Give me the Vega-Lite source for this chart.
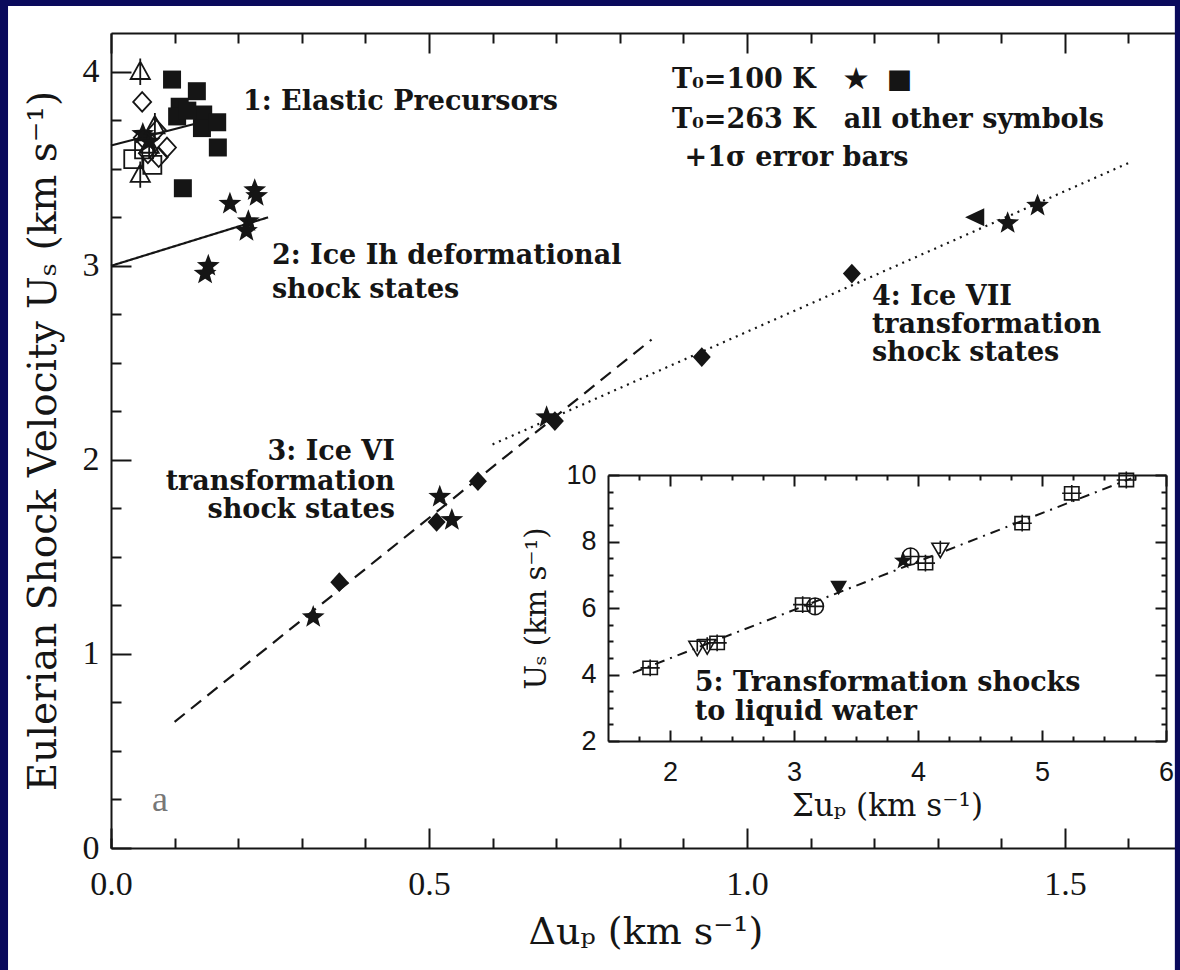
{
  "$schema": "https://vega.github.io/schema/vega-lite/v6.json",
  "width": 1069,
  "height": 815,
  "autosize": {"type": "none"},
  "padding": {"left": 111, "top": 33, "right": 0, "bottom": 122},
  "background": "white",
  "config": {
    "view": {"stroke": null},
    "axis": {
      "grid": false,
      "domainColor": "#151515", "domainWidth": 2,
      "tickColor": "#151515", "tickWidth": 2,
      "labelColor": "#151515", "titleColor": "#151515",
      "labelFont": "Liberation Serif", "titleFont": "DejaVu Serif", "titleFontWeight": "normal",
      "labelFlush": false, "labelOverlap": false
    }
  },
  "datasets": {
    "frame": [{"k": 1}],
    "lines": [
      {"line": "L1", "x": 0.0, "U": 3.62}, {"line": "L1", "x": 0.13, "U": 3.73},
      {"line": "L2", "x": 0.0, "U": 3.0}, {"line": "L2", "x": 0.247, "U": 3.25},
      {"line": "L3", "x": 0.1, "U": 0.65}, {"line": "L3", "x": 0.85, "U": 2.62},
      {"line": "L4", "x": 0.6, "U": 2.08}, {"line": "L4", "x": 1.6, "U": 3.53}
    ],
    "filled": [
      {"sym": "star", "x": 0.05, "U": 3.68}, {"sym": "star", "x": 0.06, "U": 3.64},
      {"sym": "star", "x": 0.187, "U": 3.32}, {"sym": "star", "x": 0.226, "U": 3.39},
      {"sym": "star", "x": 0.229, "U": 3.36}, {"sym": "star", "x": 0.216, "U": 3.23},
      {"sym": "star", "x": 0.213, "U": 3.18}, {"sym": "star", "x": 0.153, "U": 3.0},
      {"sym": "star", "x": 0.148, "U": 2.96},
      {"sym": "star", "x": 0.318, "U": 1.19}, {"sym": "star", "x": 0.517, "U": 1.81},
      {"sym": "star", "x": 0.536, "U": 1.69}, {"sym": "star", "x": 0.685, "U": 2.22},
      {"sym": "star", "x": 1.41, "U": 3.22}, {"sym": "star", "x": 1.457, "U": 3.31},
      {"sym": "square", "x": 0.096, "U": 3.96}, {"sym": "square", "x": 0.135, "U": 3.9},
      {"sym": "square", "x": 0.108, "U": 3.82}, {"sym": "square", "x": 0.104, "U": 3.77},
      {"sym": "square", "x": 0.145, "U": 3.78}, {"sym": "square", "x": 0.143, "U": 3.71},
      {"sym": "square", "x": 0.167, "U": 3.74}, {"sym": "square", "x": 0.168, "U": 3.61},
      {"sym": "square", "x": 0.113, "U": 3.4}, {"sym": "square", "x": 0.12, "U": 3.8},
      {"sym": "diamond", "x": 0.359, "U": 1.37}, {"sym": "diamond", "x": 0.512, "U": 1.68},
      {"sym": "diamond", "x": 0.577, "U": 1.89}, {"sym": "diamond", "x": 0.698, "U": 2.2},
      {"sym": "diamond", "x": 0.929, "U": 2.53}, {"sym": "diamond", "x": 1.165, "U": 2.96},
      {"sym": "triangle-left", "x": 1.36, "U": 3.25}
    ],
    "open": [
      {"sym": "triangle", "x": 0.046, "U": 4.0}, {"sym": "triangle", "x": 0.046, "U": 3.47},
      {"sym": "triangle", "x": 0.069, "U": 3.72}, {"sym": "triangle", "x": 0.06, "U": 3.62},
      {"sym": "diamond", "x": 0.049, "U": 3.845}, {"sym": "diamond", "x": 0.072, "U": 3.7},
      {"sym": "diamond", "x": 0.088, "U": 3.61}, {"sym": "diamond", "x": 0.058, "U": 3.58},
      {"sym": "diamond", "x": 0.05, "U": 3.66}, {"sym": "diamond", "x": 0.075, "U": 3.56},
      {"sym": "square", "x": 0.035, "U": 3.55}, {"sym": "square", "x": 0.052, "U": 3.6},
      {"sym": "square", "x": 0.065, "U": 3.52}
    ],
    "notes": [
      {"x": 0.2075, "U": 3.845, "text": "1: Elastic Precursors", "side": "left"},
      {"x": 0.253, "U": 3.05, "text": "2: Ice Ih deformational", "side": "left"},
      {"x": 0.253, "U": 2.876, "text": "shock states", "side": "left"},
      {"x": 1.1965, "U": 2.84, "text": "4: Ice VII", "side": "left"},
      {"x": 1.1965, "U": 2.696, "text": "transformation", "side": "left"},
      {"x": 1.1965, "U": 2.55, "text": "shock states", "side": "left"},
      {"x": 0.882, "U": 3.96, "text": "T₀=100 K \u00a0\u00a0★ \u00a0■", "side": "left"},
      {"x": 0.882, "U": 3.753, "text": "T₀=263 K \u00a0\u00a0all other symbols", "side": "left"},
      {"x": 0.902, "U": 3.557, "text": "+1σ error bars", "side": "left"},
      {"x": 0.4465, "U": 2.04, "text": "3: Ice VI", "side": "right"},
      {"x": 0.4465, "U": 1.887, "text": "transformation", "side": "right"},
      {"x": 0.4465, "U": 1.742, "text": "shock states", "side": "right"}
    ],
    "panel": [{"x": 0.077, "U": 0.247, "text": "a"}],
    "inset_line": [{"x": 1.7, "U": 4.05}, {"x": 5.72, "U": 9.9}],
    "inset_open": [
      {"sym": "sqx", "x": 1.84, "U": 4.2}, {"sym": "sqx", "x": 2.38, "U": 4.95},
      {"sym": "sqx", "x": 3.07, "U": 6.1}, {"sym": "sqx", "x": 4.06, "U": 7.35},
      {"sym": "sqx", "x": 4.84, "U": 8.55}, {"sym": "sqx", "x": 5.24, "U": 9.45},
      {"sym": "sqx", "x": 5.68, "U": 9.85},
      {"sym": "trid", "x": 2.22, "U": 4.8}, {"sym": "trid", "x": 2.3, "U": 4.85},
      {"sym": "trid", "x": 4.18, "U": 7.75},
      {"sym": "circ", "x": 3.17, "U": 6.05}, {"sym": "circ", "x": 3.94, "U": 7.55}
    ],
    "inset_filled": [
      {"sym": "trid", "x": 3.36, "U": 6.62}, {"sym": "star", "x": 3.88, "U": 7.42}
    ],
    "inset_notes": [
      {"x": 2.2, "U": 3.74, "text": "5: Transformation shocks"},
      {"x": 2.2, "U": 2.87, "text": "to liquid water"}
    ]
  },
  "layer": [
    {
      "layer": [
        {
          "data": {"name": "lines"},
          "mark": {"type": "line", "color": "#151515", "strokeWidth": 2.2},
          "encoding": {
            "x": {"field": "x", "type": "quantitative", "scale": {"domain": [0, 1.681], "nice": false, "zero": false},
              "axis": {"orient": "bottom", "values": [0, 0.5, 1, 1.5], "format": ".1f", "tickSize": -20,
                "labelFontSize": 34, "labelPadding": 39, "title": "Δuₚ (km s⁻¹)", "titleFontSize": 38, "titlePadding": 12}},
            "y": {"field": "U", "type": "quantitative", "scale": {"domain": [0, 4.2], "nice": false, "zero": false},
              "axis": {"orient": "left", "values": [0, 1, 2, 3, 4], "format": "d", "tickSize": -20,
                "labelFontSize": 34, "labelPadding": 32, "title": "Eulerian Shock Velocity Uₛ (km s⁻¹)", "titleFontSize": 39, "titlePadding": 19}},
            "detail": {"field": "line"},
            "strokeDash": {"field": "line", "type": "nominal", "legend": null,
              "scale": {"domain": ["L1", "L2", "L3", "L4"], "range": [[1, 0], [1, 0], [13, 8], [2, 5]]}}
          }
        },
        {
          "data": {"name": "filled"},
          "mark": {"type": "point", "filled": true, "size": 576, "color": "#151515", "opacity": 1},
          "encoding": {
            "x": {"field": "x", "type": "quantitative"},
            "y": {"field": "U", "type": "quantitative"},
            "shape": {"field": "sym", "type": "nominal", "legend": null,
              "scale": {"domain": ["star", "square", "diamond", "triangle-left", "triangle"],
                "range": [
                  "M0,-1L0.247,-0.34L0.951,-0.309L0.399,0.13L0.588,0.809L0,0.42L-0.588,0.809L-0.399,0.13L-0.951,-0.309L-0.247,-0.34Z",
                  "M-0.75,-0.75H0.75V0.75H-0.75Z",
                  "M0,-0.82L0.75,0L0,0.82L-0.75,0Z",
                  "M-0.9,0L0.7,-0.75L0.7,0.75Z",
                  "M0,-0.85L0.8,0.6L-0.8,0.6Z M0,-1.1V1.1"
                ]}}
          }
        },
        {
          "data": {"name": "open"},
          "mark": {"type": "point", "filled": false, "size": 576, "stroke": "#151515", "strokeWidth": 1.8, "opacity": 1},
          "encoding": {
            "x": {"field": "x", "type": "quantitative"},
            "y": {"field": "U", "type": "quantitative"},
            "shape": {"field": "sym", "type": "nominal", "legend": null,
              "scale": {"domain": ["star", "square", "diamond", "triangle-left", "triangle"],
                "range": [
                  "M0,-1L0.247,-0.34L0.951,-0.309L0.399,0.13L0.588,0.809L0,0.42L-0.588,0.809L-0.399,0.13L-0.951,-0.309L-0.247,-0.34Z",
                  "M-0.7,-0.7H0.7V0.7H-0.7Z M0,-0.95V0.95",
                  "M0,-0.8L0.65,0L0,0.8L-0.65,0Z M0,-1.05V1.05",
                  "M-0.9,0L0.7,-0.75L0.7,0.75Z",
                  "M0,-0.85L0.8,0.6L-0.8,0.6Z M0,-1.15V1.15"
                ]}}
          }
        },
        {
          "data": {"name": "notes"},
          "transform": [{"filter": "datum.side == 'left'"}],
          "mark": {"type": "text", "align": "left", "baseline": "middle", "font": "DejaVu Serif", "fontWeight": "bold", "fontSize": 27, "color": "#151515"},
          "encoding": {
            "x": {"field": "x", "type": "quantitative"},
            "y": {"field": "U", "type": "quantitative"},
            "text": {"field": "text"}
          }
        },
        {
          "data": {"name": "notes"},
          "transform": [{"filter": "datum.side == 'right'"}],
          "mark": {"type": "text", "align": "right", "baseline": "middle", "font": "DejaVu Serif", "fontWeight": "bold", "fontSize": 27, "color": "#151515"},
          "encoding": {
            "x": {"field": "x", "type": "quantitative"},
            "y": {"field": "U", "type": "quantitative"},
            "text": {"field": "text"}
          }
        },
        {
          "data": {"name": "panel"},
          "mark": {"type": "text", "align": "center", "baseline": "middle", "font": "Liberation Serif", "fontSize": 36, "color": "#777777"},
          "encoding": {
            "x": {"field": "x", "type": "quantitative"},
            "y": {"field": "U", "type": "quantitative"},
            "text": {"field": "text"}
          }
        },
        {
          "data": {"name": "frame"},
          "mark": {"type": "rect", "fill": null, "fillOpacity": 0, "stroke": "#0a0a5c", "strokeWidth": 16, "opacity": 1},
          "encoding": {
            "x": {"datum": -0.1745, "type": "quantitative"},
            "x2": {"datum": 1.6855},
            "y": {"datum": 4.38, "type": "quantitative"},
            "y2": {"datum": -0.75}
          }
        }
      ]
    },
    {
      "mark": {"type": "point", "opacity": 0},
      "encoding": {
        "x": {"datum": 0.5, "type": "quantitative", "scale": {"domain": [0, 1.681], "nice": false, "zero": false},
          "axis": {"orient": "bottom", "values": [0, 0.1, 0.2, 0.3, 0.4, 0.6, 0.7, 0.8, 0.9, 1.1, 1.2, 1.3, 1.4, 1.6], "tickSize": -10, "labels": false, "domain": false, "title": null}},
        "y": {"datum": 1, "type": "quantitative", "scale": {"domain": [0, 4.2], "nice": false, "zero": false},
          "axis": {"orient": "left", "values": [0.25, 0.5, 0.75, 1.25, 1.5, 1.75, 2.25, 2.5, 2.75, 3.25, 3.5, 3.75], "tickSize": -10, "labels": false, "domain": false, "title": null}}
      }
    },
    {
      "mark": {"type": "point", "opacity": 0},
      "encoding": {
        "x": {"datum": 0.5, "type": "quantitative", "scale": {"domain": [0, 1.681], "nice": false, "zero": false},
          "axis": {"orient": "top", "values": [0, 0.5, 1, 1.5], "tickSize": -20, "labels": false, "domain": true, "title": null}}
      }
    },
    {
      "mark": {"type": "point", "opacity": 0},
      "encoding": {
        "x": {"datum": 0.5, "type": "quantitative", "scale": {"domain": [0, 1.681], "nice": false, "zero": false},
          "axis": {"orient": "top", "values": [0.1, 0.2, 0.3, 0.4, 0.6, 0.7, 0.8, 0.9, 1.1, 1.2, 1.3, 1.4, 1.6], "tickSize": -10, "labels": false, "domain": false, "title": null}}
      }
    },
    {
      "layer": [
        {
          "data": {"name": "inset_line"},
          "mark": {"type": "line", "color": "#151515", "strokeWidth": 2, "strokeDash": [10, 6, 2, 6]},
          "encoding": {
            "x": {"field": "x", "type": "quantitative", "scale": {"domain": [1.5, 6], "range": [497, 1055], "nice": false, "zero": false},
              "axis": {"orient": "bottom", "offset": -107, "values": [2, 3, 4, 5, 6], "format": "d", "tickSize": -11,
                "labelFont": "Liberation Sans", "labelFontSize": 27, "labelPadding": 29,
                "title": "Σuₚ (km s⁻¹)", "titleFontSize": 31, "titlePadding": 6}},
            "y": {"field": "U", "type": "quantitative", "scale": {"domain": [2, 10], "range": [708, 442], "nice": false, "zero": false},
              "axis": {"orient": "left", "offset": -497, "values": [2, 4, 6, 8, 10], "format": "d", "tickSize": -11,
                "labelFont": "Liberation Sans", "labelFontSize": 27, "labelPadding": 23,
                "title": "Uₛ (km s⁻¹)", "titleFontSize": 29, "titlePadding": 14}}
          }
        },
        {
          "data": {"name": "inset_open"},
          "mark": {"type": "point", "filled": false, "size": 576, "stroke": "#151515", "strokeWidth": 1.6, "opacity": 1},
          "encoding": {
            "x": {"field": "x", "type": "quantitative"},
            "y": {"field": "U", "type": "quantitative"},
            "shape": {"field": "sym", "type": "nominal", "legend": null,
              "scale": {"domain": ["sqx", "trid", "circ", "star"],
                "range": [
                  "M-0.6,-0.55H0.6V0.55H-0.6Z M-0.8,0H0.8 M0,-0.7V0.7",
                  "M-0.7,-0.55H0.7L0,0.65Z M0,-0.75V0.3",
                  "M0.7,0A0.7,0.7,0,1,1,-0.7,0A0.7,0.7,0,1,1,0.7,0Z M-0.7,0H0.7 M0,-0.7V0.7",
                  "M0,-0.8L0.2,-0.27L0.76,-0.25L0.32,0.1L0.47,0.65L0,0.34L-0.47,0.65L-0.32,0.1L-0.76,-0.25L-0.2,-0.27Z"
                ]}}
          }
        },
        {
          "data": {"name": "inset_filled"},
          "mark": {"type": "point", "filled": true, "size": 576, "color": "#151515", "opacity": 1},
          "encoding": {
            "x": {"field": "x", "type": "quantitative"},
            "y": {"field": "U", "type": "quantitative"},
            "shape": {"field": "sym", "type": "nominal", "legend": null,
              "scale": {"domain": ["sqx", "trid", "circ", "star"],
                "range": [
                  "M-0.6,-0.55H0.6V0.55H-0.6Z M-0.8,0H0.8 M0,-0.7V0.7",
                  "M-0.7,-0.55H0.7L0,0.65Z M0,-0.75V0.3",
                  "M0.7,0A0.7,0.7,0,1,1,-0.7,0A0.7,0.7,0,1,1,0.7,0Z M-0.7,0H0.7 M0,-0.7V0.7",
                  "M0,-0.8L0.2,-0.27L0.76,-0.25L0.32,0.1L0.47,0.65L0,0.34L-0.47,0.65L-0.32,0.1L-0.76,-0.25L-0.2,-0.27Z"
                ]}}
          }
        },
        {
          "data": {"name": "inset_notes"},
          "mark": {"type": "text", "align": "left", "baseline": "middle", "font": "DejaVu Serif", "fontWeight": "bold", "fontSize": 27, "color": "#151515"},
          "encoding": {
            "x": {"field": "x", "type": "quantitative"},
            "y": {"field": "U", "type": "quantitative"},
            "text": {"field": "text"}
          }
        }
      ]
    },
    {
      "mark": {"type": "point", "opacity": 0},
      "encoding": {
        "x": {"datum": 3, "type": "quantitative", "scale": {"domain": [1.5, 6], "range": [497, 1055], "nice": false, "zero": false},
          "axis": {"orient": "bottom", "offset": -107, "values": [1.75, 2.25, 2.5, 2.75, 3.25, 3.5, 3.75, 4.25, 4.5, 4.75, 5.25, 5.5, 5.75], "tickSize": -5, "labels": false, "domain": false, "title": null}},
        "y": {"datum": 5, "type": "quantitative", "scale": {"domain": [2, 10], "range": [708, 442], "nice": false, "zero": false},
          "axis": {"orient": "left", "offset": -497, "values": [2.5, 3, 3.5, 4.5, 5, 5.5, 6.5, 7, 7.5, 8.5, 9, 9.5], "tickSize": -5, "labels": false, "domain": false, "title": null}}
      }
    },
    {
      "mark": {"type": "point", "opacity": 0},
      "encoding": {
        "x": {"datum": 3, "type": "quantitative", "scale": {"domain": [1.5, 6], "range": [497, 1055], "nice": false, "zero": false},
          "axis": {"orient": "top", "offset": -442, "values": [2, 3, 4, 5, 6], "tickSize": -11, "labels": false, "domain": true, "title": null}},
        "y": {"datum": 5, "type": "quantitative", "scale": {"domain": [2, 10], "range": [708, 442], "nice": false, "zero": false},
          "axis": {"orient": "right", "offset": -14, "values": [2, 4, 6, 8, 10], "tickSize": -11, "labels": false, "domain": true, "title": null}}
      }
    },
    {
      "mark": {"type": "point", "opacity": 0},
      "encoding": {
        "x": {"datum": 3, "type": "quantitative", "scale": {"domain": [1.5, 6], "range": [497, 1055], "nice": false, "zero": false},
          "axis": {"orient": "top", "offset": -442, "values": [1.75, 2.25, 2.5, 2.75, 3.25, 3.5, 3.75, 4.25, 4.5, 4.75, 5.25, 5.5, 5.75], "tickSize": -5, "labels": false, "domain": false, "title": null}},
        "y": {"datum": 5, "type": "quantitative", "scale": {"domain": [2, 10], "range": [708, 442], "nice": false, "zero": false},
          "axis": {"orient": "right", "offset": -14, "values": [2.5, 3, 3.5, 4.5, 5, 5.5, 6.5, 7, 7.5, 8.5, 9, 9.5], "tickSize": -5, "labels": false, "domain": false, "title": null}}
      }
    }
  ],
  "resolve": {"scale": {"x": "independent", "y": "independent", "shape": "independent", "strokeDash": "independent"}}
}
